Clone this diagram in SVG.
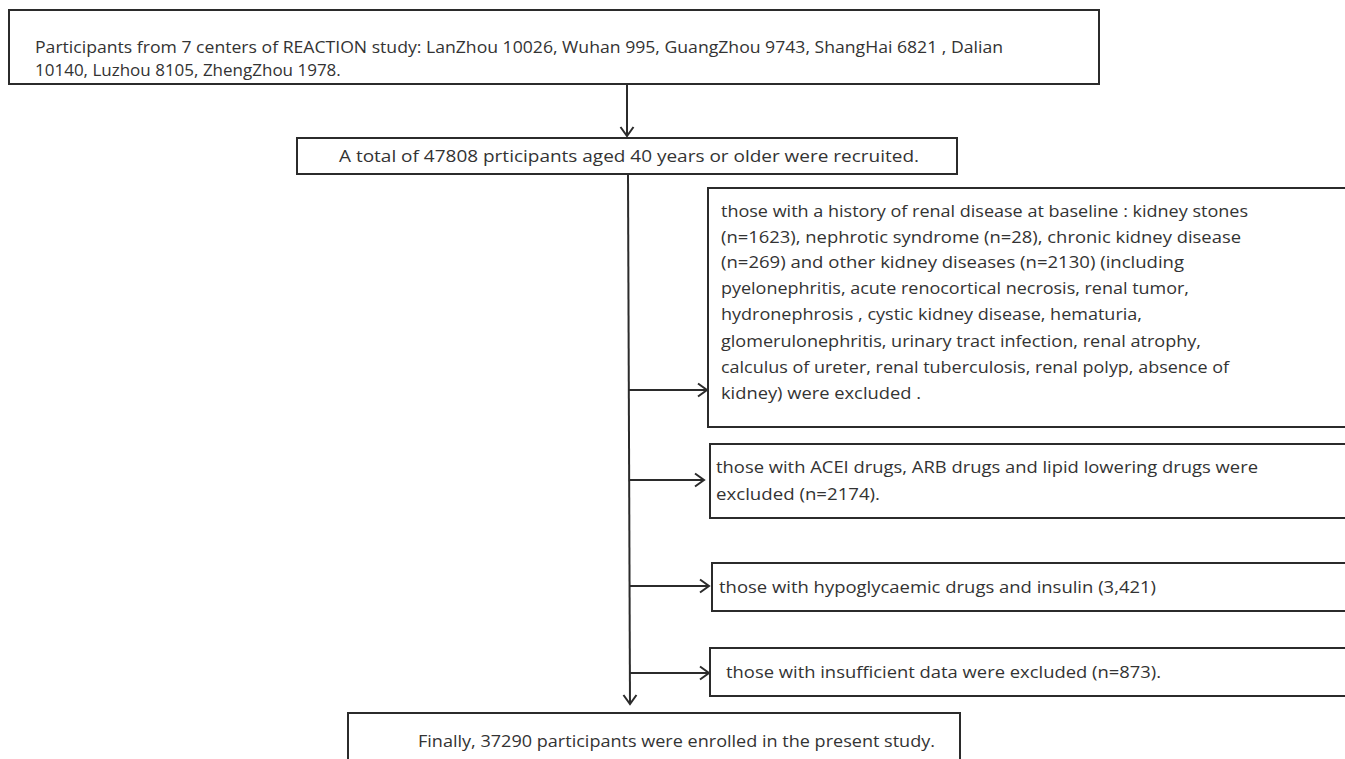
<svg xmlns="http://www.w3.org/2000/svg" width="1345" height="759" viewBox="0 0 1345 759">
<defs>
<style>
.box{fill:#fff;stroke:#2b2b2b;stroke-width:2}
.t{font-family:"Open Sans","Noto Sans",sans-serif;font-size:17px;fill:#333}
.c{fill:none;stroke:#2b2b2b;stroke-width:2}
</style>
<marker id="ah" markerUnits="userSpaceOnUse" markerWidth="14" markerHeight="16" viewBox="0 0 14 16" refX="12" refY="8" orient="auto">
<path d="M3,1.5 L12,8 L3,14.5" fill="none" stroke="#2b2b2b" stroke-width="2"/>
</marker>
</defs>
<rect width="1345" height="759" fill="#fff"/>
<g id="connectors">
<line class="c" x1="627" y1="84" x2="627" y2="136" marker-end="url(#ah)"/>
<line class="c" x1="628" y1="175" x2="630" y2="704" marker-end="url(#ah)"/>
<line class="c" x1="628" y1="390" x2="707" y2="390" marker-end="url(#ah)"/>
<line class="c" x1="629" y1="480" x2="704" y2="480" marker-end="url(#ah)"/>
<line class="c" x1="630" y1="586" x2="709" y2="586" marker-end="url(#ah)"/>
<line class="c" x1="630" y1="673" x2="709" y2="673" marker-end="url(#ah)"/>
</g>
<g id="n1">
<rect class="box" x="9" y="10" width="1090" height="74"/>
<text class="t" x="35" y="53" textLength="968" lengthAdjust="spacingAndGlyphs">Participants from 7 centers of REACTION study: LanZhou 10026, Wuhan 995, GuangZhou 9743, ShangHai 6821 , Dalian</text>
<text class="t" x="35" y="76">10140, Luzhou 8105, ZhengZhou 1978.</text>
</g>
<g id="n2">
<rect class="box" x="297" y="138" width="660" height="36"/>
<text class="t" x="339" y="162" textLength="580" lengthAdjust="spacingAndGlyphs">A total of 47808 prticipants aged 40 years or older were recruited.</text>
</g>
<g id="n3">
<rect class="box" x="708" y="188" width="660" height="239"/>
<text class="t" x="721" y="217" textLength="527" lengthAdjust="spacingAndGlyphs">those with a history of renal disease at baseline : kidney stones</text>
<text class="t" x="721" y="243" textLength="520" lengthAdjust="spacingAndGlyphs">(n=1623), nephrotic syndrome (n=28), chronic kidney disease</text>
<text class="t" x="721" y="268" textLength="463" lengthAdjust="spacingAndGlyphs">(n=269) and other kidney diseases (n=2130) (including</text>
<text class="t" x="721" y="294" textLength="468" lengthAdjust="spacingAndGlyphs">pyelonephritis, acute renocortical necrosis, renal tumor,</text>
<text class="t" x="721" y="320" textLength="421" lengthAdjust="spacingAndGlyphs">hydronephrosis , cystic kidney disease, hematuria,</text>
<text class="t" x="721" y="347" textLength="480" lengthAdjust="spacingAndGlyphs">glomerulonephritis, urinary tract infection, renal atrophy,</text>
<text class="t" x="721" y="373" textLength="508" lengthAdjust="spacingAndGlyphs">calculus of ureter, renal tuberculosis, renal polyp, absence of</text>
<text class="t" x="721" y="399" textLength="200" lengthAdjust="spacingAndGlyphs">kidney) were excluded .</text>
</g>
<g id="n4">
<rect class="box" x="710" y="444" width="660" height="74"/>
<text class="t" x="716" y="473" textLength="542" lengthAdjust="spacingAndGlyphs">those with ACEI drugs, ARB drugs and lipid lowering drugs were</text>
<text class="t" x="716" y="500" textLength="164" lengthAdjust="spacingAndGlyphs">excluded (n=2174).</text>
</g>
<g id="n5">
<rect class="box" x="712" y="563" width="660" height="48"/>
<text class="t" x="719" y="593" textLength="437" lengthAdjust="spacingAndGlyphs">those with hypoglycaemic drugs and insulin (3,421)</text>
</g>
<g id="n6">
<rect class="box" x="710" y="648" width="660" height="48"/>
<text class="t" x="726" y="678" textLength="435" lengthAdjust="spacingAndGlyphs">those with insufficient data were excluded (n=873).</text>
</g>
<g id="n7">
<rect class="box" x="348" y="713" width="612" height="60"/>
<text class="t" x="418" y="747" textLength="517" lengthAdjust="spacingAndGlyphs">Finally, 37290 participants were enrolled in the present study.</text>
</g>
</svg>
